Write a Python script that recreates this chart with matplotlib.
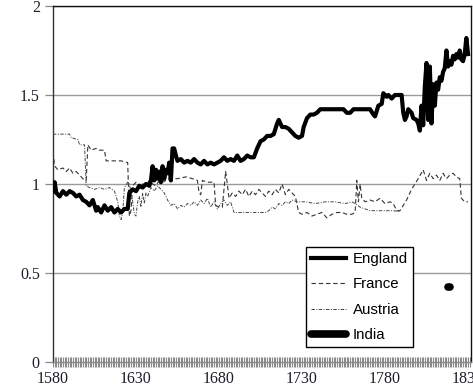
import matplotlib
matplotlib.use("Agg")
import matplotlib.pyplot as plt
from matplotlib.ticker import MultipleLocator

# England
eng_years = [1580, 1581, 1582, 1584, 1586, 1588, 1590, 1592, 1594, 1596, 1598, 1600,
             1602, 1604, 1606, 1607, 1609, 1611, 1613, 1615, 1617, 1619, 1621, 1623,
             1625, 1626, 1628, 1630, 1632, 1634, 1636, 1638, 1639, 1640, 1641, 1642,
             1643, 1644, 1645, 1646, 1647, 1648, 1649, 1650, 1651, 1652, 1653, 1654,
             1655, 1657, 1659, 1661, 1663, 1665, 1667, 1669, 1671, 1673, 1675, 1677,
             1679, 1681, 1683, 1685, 1687, 1689, 1691, 1693, 1695, 1697, 1699, 1701,
             1703, 1705, 1707, 1709, 1711, 1713, 1715, 1716, 1718, 1720, 1722, 1724,
             1726, 1728, 1730, 1731, 1733, 1735, 1737, 1739, 1741, 1745, 1749, 1752,
             1755, 1757, 1759, 1761, 1765, 1769, 1771, 1773, 1774, 1776, 1778, 1779,
             1781, 1782, 1784, 1786, 1788, 1790, 1791, 1792, 1793, 1794, 1796, 1797,
             1799, 1800, 1801, 1802, 1803, 1804, 1805, 1806, 1807, 1808, 1809, 1810,
             1811, 1812, 1813, 1814, 1815, 1816, 1817, 1818, 1819, 1820, 1821, 1822,
             1823, 1824, 1825, 1826, 1827, 1828, 1829, 1830]
eng_vals = [0.96, 1.01, 0.95, 0.93, 0.96, 0.94, 0.96, 0.95, 0.93, 0.94, 0.91, 0.90,
            0.88, 0.91, 0.85, 0.87, 0.84, 0.88, 0.85, 0.87, 0.84, 0.86, 0.84, 0.86,
            0.86, 0.95, 0.97, 0.96, 0.99, 0.98, 1.00, 0.99, 1.02, 1.10, 1.02, 1.08,
            1.03, 1.07, 1.01, 1.10, 1.03, 1.08, 1.06, 1.12, 1.02, 1.20, 1.20, 1.16,
            1.13, 1.14, 1.12, 1.13, 1.12, 1.14, 1.12, 1.11, 1.13, 1.11, 1.12, 1.11,
            1.12, 1.13, 1.15, 1.13, 1.14, 1.13, 1.16, 1.13, 1.14, 1.16, 1.15, 1.15,
            1.20, 1.24, 1.25, 1.27, 1.27, 1.28, 1.34, 1.36, 1.32, 1.32, 1.31, 1.29,
            1.27, 1.26, 1.27, 1.32, 1.37, 1.39, 1.39, 1.40, 1.42, 1.42, 1.42, 1.42,
            1.42, 1.40, 1.40, 1.42, 1.42, 1.42, 1.42, 1.39, 1.38, 1.44, 1.45, 1.51,
            1.49, 1.50, 1.48, 1.50, 1.50, 1.50, 1.40, 1.36, 1.38, 1.42, 1.40, 1.37,
            1.36, 1.34, 1.30, 1.44, 1.33, 1.55, 1.68, 1.36, 1.66, 1.34, 1.56, 1.44,
            1.57, 1.53, 1.60, 1.58, 1.63, 1.65, 1.75, 1.66, 1.69, 1.67, 1.72, 1.70,
            1.73, 1.71, 1.75, 1.70, 1.69, 1.73, 1.82, 1.73]

# France
fra_years = [1580, 1581, 1583, 1586, 1588, 1590, 1592, 1594, 1596, 1598, 1600, 1601,
             1603, 1606, 1608, 1611, 1612, 1618, 1621, 1625, 1626, 1627, 1628, 1630,
             1632, 1634, 1636, 1638, 1640, 1642, 1644, 1646, 1648, 1650, 1655, 1660,
             1664, 1667, 1668, 1669, 1670, 1673, 1677, 1678, 1680, 1682, 1684, 1685,
             1686, 1688, 1690, 1692, 1694, 1696, 1698, 1700, 1702, 1704, 1706, 1708,
             1710, 1712, 1714, 1716, 1718, 1720, 1722, 1724, 1726, 1728, 1730, 1733,
             1736, 1739, 1742, 1745, 1748, 1751, 1754, 1757, 1760, 1762, 1763, 1764,
             1765, 1766, 1768, 1771, 1774, 1777, 1780, 1783, 1785, 1787, 1789, 1793,
             1796, 1800, 1803, 1805, 1807, 1809, 1811, 1813, 1815, 1817, 1819, 1821,
             1823, 1825, 1826, 1828, 1830]
fra_vals = [1.18, 1.10, 1.08, 1.09, 1.07, 1.09, 1.06, 1.07, 1.05, 1.03, 1.02, 1.22,
            1.19, 1.20, 1.19, 1.19, 1.13, 1.13, 1.13, 1.12, 0.82, 0.85, 0.99, 1.01,
            0.98, 1.00, 0.99, 1.02, 1.00, 0.99, 1.02, 1.01, 1.02, 1.03, 1.03, 1.04,
            1.03, 1.02, 0.95, 0.94, 1.02, 1.01, 1.01, 0.88, 0.87, 0.87, 1.07, 1.00,
            0.92, 0.95, 0.93, 0.96, 0.94, 0.97, 0.93, 0.96, 0.94, 0.97, 0.95, 0.93,
            0.96, 0.94, 0.97, 0.95, 1.00, 0.94, 0.97, 0.95, 0.93, 0.84, 0.83, 0.84,
            0.82, 0.83, 0.84, 0.81, 0.83, 0.84, 0.84, 0.83, 0.83, 0.84, 1.02, 0.90,
            1.00, 0.92, 0.90, 0.91, 0.90, 0.92, 0.89, 0.90, 0.89, 0.85, 0.85, 0.91,
            0.97, 1.03, 1.08, 1.02, 1.06, 1.03, 1.05, 1.02, 1.06, 1.03, 1.05, 1.06,
            1.04, 1.03, 0.92, 0.90, 0.90]

# Austria
aus_years = [1580, 1590, 1591, 1595, 1596, 1599, 1600, 1602, 1605, 1608, 1611, 1614,
             1617, 1619, 1620, 1621, 1622, 1623, 1625, 1626, 1628, 1629, 1630, 1631,
             1632, 1633, 1634, 1635, 1636, 1637, 1639, 1641, 1643, 1645, 1647, 1649,
             1651, 1653, 1655, 1657, 1659, 1661, 1663, 1665, 1667, 1669, 1671, 1673,
             1675, 1677, 1679, 1681, 1683, 1685, 1687, 1689, 1692, 1696, 1700, 1704,
             1708, 1710, 1712, 1714, 1716, 1718, 1720, 1722, 1724, 1727, 1732, 1738,
             1744, 1750, 1756, 1760, 1762, 1765, 1768, 1771, 1776, 1780, 1785, 1789]
aus_vals = [1.28, 1.28, 1.26, 1.25, 1.22, 1.22, 0.99, 0.98, 0.97, 0.98, 0.97, 0.98,
            0.96, 0.90, 0.82, 0.80, 0.84, 0.98, 1.01, 1.00, 0.90, 0.83, 0.82, 0.90,
            0.93, 0.87, 0.95, 0.89, 0.95, 0.93, 0.98, 0.96, 0.99, 0.97, 0.95, 0.91,
            0.88, 0.89, 0.86, 0.88, 0.87, 0.89, 0.88, 0.90, 0.88, 0.91, 0.89, 0.92,
            0.87, 0.90, 0.86, 0.89, 0.91, 0.88, 0.90, 0.84, 0.84, 0.84, 0.84, 0.84,
            0.84, 0.85, 0.87, 0.86, 0.89, 0.88, 0.90, 0.89, 0.91, 0.90, 0.90, 0.89,
            0.90, 0.90, 0.89, 0.90, 0.89, 0.87, 0.86, 0.85, 0.85, 0.85, 0.85, 0.845]

# India
ind_years = [1818, 1819]
ind_vals = [0.42, 0.42]

x_ticks = [1580, 1630, 1680, 1730, 1780, 1830]
y_ticks = [0, 0.5, 1, 1.5, 2]
y_labels = ["0", "0.5", "1", "1.5", "2"]

fig = plt.figure(figsize=(4.73, 3.9), dpi=100)
ax = fig.add_axes([53 / 473, 28 / 390, 418 / 473, 356 / 390])

for y in y_ticks[1:]:
    ax.axhline(y, color="#9a9a9a", lw=1.0, zorder=1)

ax.plot(eng_years, eng_vals, color="black", lw=3.0, solid_joinstyle="round",
        label="England", zorder=4)
ax.plot(fra_years, fra_vals, color="#333333", lw=0.8, dashes=(4, 2.5),
        label="France", zorder=3)
ax.plot(aus_years, aus_vals, color="#444444", lw=0.7, dashes=(3.5, 1.5, 1, 1.5),
        label="Austria", zorder=3)
ax.plot(ind_years, ind_vals, color="black", lw=5.5, solid_capstyle="round",
        label="India", zorder=4)

ax.set_xlim(1580, 1831.8)
ax.set_ylim(0, 2)

ax.set_xticks(x_ticks)
ax.xaxis.set_minor_locator(MultipleLocator(1))
ax.set_yticks(y_ticks)
ax.set_yticklabels(y_labels)

serif = ["Liberation Serif", "DejaVu Serif"]
for lab in ax.get_xticklabels() + ax.get_yticklabels():
    lab.set_fontfamily(serif)
    lab.set_fontsize(11.5)
    lab.set_color("#1e1e2a")

ax.tick_params(axis="x", which="both", direction="inout", length=7.5, width=0.8,
               color="#8a8a8a", pad=3)
ax.tick_params(axis="y", direction="out", length=6, width=0.9, color="#8a8a8a", pad=3.5)

ax.spines["left"].set_color("#333333")
ax.spines["top"].set_color("#111111")
ax.spines["right"].set_color("#111111")
ax.spines["bottom"].set_color("#8a8a8a")
for s in ax.spines.values():
    s.set_linewidth(1.0)

leg = ax.legend(loc="upper left", bbox_to_anchor=((306 - 53) / 418, (362 - 247) / 356),
                borderaxespad=0, frameon=True, fancybox=False, framealpha=1,
                edgecolor="black", handlelength=2.3, handletextpad=0.45,
                labelspacing=0.75, borderpad=0.35,
                prop={"family": ["Liberation Sans", "DejaVu Sans"], "size": 10.8})
leg.get_frame().set_linewidth(1.0)

fig.savefig("out.png", dpi=100)
